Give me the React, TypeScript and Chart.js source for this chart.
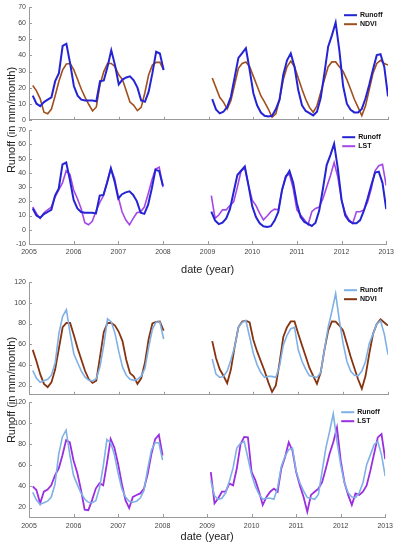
import React, { useEffect, useRef } from "react";
import { Chart, registerables } from "chart.js";
Chart.register(...registerables);

// ---- categories / ticks ----
const segmentStartYears = [2005, 2009];
const gapYear = 2008.5;
const yearTicks = [2005, 2006, 2007, 2008, 2009, 2010, 2011, 2012, 2013];
const yTicksA = [0, 10, 20, 30, 40, 50, 60, 70];
const yTicksB = [-10, 0, 10, 20, 30, 40, 50, 60, 70];
const yTicksCD = [20, 40, 60, 80, 100, 120];

// ---- top panels (a),(b): monthly values, 2005-2007 and 2009-2012 ----
const runoffTop0507 = [15, 10, 8.5, 11, 12.5, 14, 24, 29, 46, 47.3, 35, 21,
  15, 12.5, 12, 12, 12, 11.5, 24, 24.5, 33, 43.2, 34, 22,
  25, 26.3, 27, 24.5, 20, 12, 11.2, 17.5, 29, 42.3, 41.2, 31];
const runoffTop0912 = [12.8, 6.5, 4, 5, 8, 14.5, 26.5, 38.5, 41.5, 44.5, 31, 16.5,
  9, 4.5, 2.5, 2, 2.5, 6.5, 12.5, 28, 37, 41.3, 33, 18.5,
  9, 5.5, 4.2, 2.7, 5, 13.5, 29, 45.5, 52.5, 60.5, 43, 21,
  10, 6.2, 4.6, 4.6, 6.8, 13.4, 22, 31.5, 40.2, 40.8, 33, 14.5];
const ndviTop0507 = [21.3, 18, 13, 4.7, 3.7, 6.7, 15, 24, 31, 34.7, 35, 31,
  25, 19, 14, 9.5, 5.5, 8, 22, 30, 35, 35, 33, 28,
  25, 18, 11, 9, 5.7, 7.7, 17, 28, 34, 35.7, 35.7, 31];
const ndviTop0912 = [26, 20, 14, 11, 6.7, 12, 22, 32, 35, 36, 33, 27,
  21, 15, 11, 6.7, 1.6, 3.7, 12.8, 25, 33, 36.5, 33, 26,
  19, 12.8, 7.7, 4.7, 8.7, 17, 25, 33, 36, 36, 33, 30,
  25, 19, 12.8, 7.7, 2.6, 8.7, 19, 29, 35, 37, 35, 34];
const lstTop0507 = [16, 11.5, 8, 12, 14, 16, 23, 28, 33, 41.5, 39, 28,
  22, 15, 5, 3.5, 6, 13, 19, 24, 34, 43, 36, 23,
  12.7, 7, 3.5, 8, 12, 12.7, 16, 25, 34.6, 42.7, 44, 30];
const lstTop0912 = [24, 8, 10.4, 14, 14, 17, 19.6, 30, 41.5, 43.4, 31, 20.8,
  17, 11.5, 7, 9.7, 12.7, 14.5, 14, 27.7, 38, 39, 29, 14,
  10.4, 7, 3.5, 12.7, 15, 16, 22, 30, 38, 47.3, 37, 20.8,
  11.5, 7, 4.6, 12.7, 12.7, 14, 19.6, 29, 41.5, 45, 46, 31];

// ---- bottom panels (c),(d) ----
const runoffBot0507 = [34.5, 27, 23, 24.5, 26, 30, 42, 70.5, 87, 93.5, 70, 50.5,
  42, 34, 28, 25, 24.5, 26.5, 38.5, 59, 84.5, 81.5, 70.5, 53,
  38, 30, 26, 25, 26, 29, 36.5, 57, 74.5, 81.5, 81.5, 65];
const runoffBot0912 = [45.7, 31, 27.8, 28.8, 34, 45, 57.6, 76.4, 81, 82.7, 67, 51,
  40, 32.5, 27.8, 28.8, 28.8, 27.8, 38.8, 59, 68.6, 75, 76.4, 54.5,
  43.5, 35.7, 29.4, 28.8, 27.8, 32.5, 54.5, 76.4, 92, 109, 82.7, 60.7,
  43.5, 34, 30, 29.4, 34, 43.5, 60.7, 70, 79.6, 82.7, 70, 49.8];
const ndviBot0507 = [54.5, 43.5, 31, 21.6, 18.4, 23, 35.7, 56, 76.4, 80.5, 80.5, 68.6,
  56, 45, 34, 26, 22.5, 24.7, 48, 71.7, 80.5, 80.5, 78, 72,
  63, 45, 32, 29, 21.6, 27, 42, 65, 80, 81.5, 82, 73];
const ndviBot0912 = [63, 46.6, 35.7, 29.4, 22.2, 35.7, 57.6, 76.4, 82, 82.7, 81, 64,
  53, 43.5, 34, 23, 13.7, 20, 42, 67, 76.4, 82, 82, 70,
  59, 48, 37, 29.4, 21.6, 32.5, 54.5, 73, 82, 81.8, 78, 73,
  60.7, 48, 37, 26, 16.9, 29.4, 51, 70, 79.6, 84, 81, 78];
const lstBot0507 = [40, 36.6, 24, 35, 37, 41, 50.6, 57, 69.4, 84, 82, 64.7,
  53, 37, 18, 17.5, 27, 38, 43, 41, 62, 85, 77, 61.6,
  42.8, 27, 19.4, 30, 31.9, 33.4, 38, 52, 71, 85, 89, 69.4];
const lstBot0912 = [53.7, 24, 28.8, 35, 35, 42.8, 41, 57, 80, 87, 86.6, 53.7,
  46, 35, 22.5, 30, 35, 38, 35, 57, 67.8, 82, 74, 53.7,
  41, 30, 16, 32, 35, 38, 44, 57, 71, 82, 96, 64.7,
  44, 32, 22.5, 33.4, 32, 35, 41, 55, 71, 86.6, 89.7, 66];

const FONT = '"Liberation Sans", Arial, Helvetica, sans-serif';
const AXIS = "#9a9a9a";
const TICKTXT = "#444";

function toPoints(startYear: number, values: number[]) {
  return values.map((v, i) => ({ x: startYear + (i + 1) / 12, y: v }));
}
function series(a: number[], b: number[]) {
  return [
    ...toPoints(segmentStartYears[0], a),
    { x: gapYear, y: null as any },
    ...toPoints(segmentStartYears[1], b),
  ];
}

const decorPlugin = {
  id: "panelDecor",
  afterDraw(chart: any, _args: any, opts: any) {
    const { ctx, chartArea } = chart;
    const xs = chart.scales.x;
    const ys = chart.scales.y;
    ctx.save();
    ctx.strokeStyle = AXIS;
    ctx.lineWidth = 1;
    ys.ticks.forEach((t: any) => {
      const py = Math.round(ys.getPixelForValue(t.value)) + 0.5;
      ctx.beginPath();
      ctx.moveTo(chartArea.left, py);
      ctx.lineTo(chartArea.left + 3, py);
      ctx.stroke();
    });
    xs.ticks.forEach((t: any) => {
      const px = Math.round(xs.getPixelForValue(t.value)) + 0.5;
      ctx.beginPath();
      ctx.moveTo(px, chartArea.bottom);
      ctx.lineTo(px, chartArea.bottom - 3);
      ctx.stroke();
    });
    chart.data.datasets.forEach((ds: any, i: number) => {
      const y = chartArea.top + opts.dy + i * opts.gap;
      const x0 = chartArea.right - opts.dx;
      ctx.strokeStyle = ds.borderColor;
      ctx.lineWidth = 2;
      ctx.beginPath();
      ctx.moveTo(x0, y);
      ctx.lineTo(x0 + 13, y);
      ctx.stroke();
      ctx.fillStyle = "#111";
      ctx.font = `bold 7px ${FONT}`;
      ctx.textBaseline = "middle";
      ctx.textAlign = "left";
      ctx.fillText(ds.label, x0 + 16, y);
    });
    ctx.restore();
  },
};

type DS = { label: string; data: any[]; color: string; width: number };
type PanelCfg = {
  top: number;
  height: number;
  padTop: number;
  padBottom: number;
  xHeight: number;
  showX: boolean;
  tickPad: number;
  titlePad: number;
  yMin: number;
  yMax: number;
  yTicks: number[];
  legendDy: number;
  datasets: DS[];
};

function Panel({ cfg }: { cfg: PanelCfg }) {
  const ref = useRef<HTMLCanvasElement>(null);
  useEffect(() => {
    const chart = new Chart(ref.current!, {
      type: "line",
      data: {
        datasets: cfg.datasets.map((d) => ({
          label: d.label,
          data: d.data,
          borderColor: d.color,
          backgroundColor: d.color,
          borderWidth: d.width,
          pointRadius: 0,
          tension: 0,
          spanGaps: false,
        })),
      },
      options: {
        responsive: false,
        maintainAspectRatio: false,
        animation: false,
        layout: { padding: { top: cfg.padTop, bottom: cfg.padBottom, left: 0, right: 10 } },
        plugins: {
          legend: { display: false },
          tooltip: { enabled: false },
          panelDecor: { dx: 44, dy: cfg.legendDy, gap: 9 },
        } as any,
        scales: {
          x: {
            type: "linear",
            min: 2005,
            max: 2013,
            afterBuildTicks: (s: any) => {
              s.ticks = yearTicks.map((v) => ({ value: v }));
            },
            afterFit: (s: any) => {
              s.height = cfg.xHeight;
            },
            grid: { display: false, drawTicks: false },
            border: { display: true, color: AXIS, width: 1 },
            ticks: {
              display: cfg.showX,
              font: { size: 7, family: FONT },
              color: TICKTXT,
              padding: cfg.tickPad,
              maxRotation: 0,
              callback: (v: any) => String(v),
            },
            title: {
              display: cfg.showX,
              text: "date (year)",
              font: { size: 11, family: FONT },
              color: "#222",
              padding: { top: 0, bottom: cfg.titlePad },
            },
          },
          y: {
            type: "linear",
            min: cfg.yMin,
            max: cfg.yMax,
            afterBuildTicks: (s: any) => {
              s.ticks = cfg.yTicks.map((v) => ({ value: v }));
            },
            afterFit: (s: any) => {
              s.width = 29;
            },
            grid: { display: false, drawTicks: false },
            border: { display: true, color: AXIS, width: 1 },
            ticks: {
              font: { size: 7, family: FONT },
              color: TICKTXT,
              padding: 3,
              callback: (v: any) => String(v),
            },
          },
        },
      } as any,
      plugins: [decorPlugin as any],
    });
    return () => chart.destroy();
  }, []);
  return (
    <canvas
      ref={ref}
      width={398}
      height={cfg.height}
      style={{ position: "absolute", left: 0, top: cfg.top, width: 398, height: cfg.height }}
    />
  );
}

const C_BLUE_DARK = "#2424d4";
const C_NDVI_TOP = "#a0501e";
const C_LST_TOP = "#a447e6";
const C_BLUE_LIGHT = "#7fb0e6";
const C_NDVI_BOT = "#86330f";
const C_LST_BOT = "#9a2ee0";

const panels: PanelCfg[] = [
  {
    top: 0, height: 127, padTop: 6, padBottom: 6, xHeight: 0, showX: false, tickPad: 4, titlePad: 0,
    yMin: 0, yMax: 70, yTicks: yTicksA, legendDy: 8,
    datasets: [
      { label: "Runoff", data: series(runoffTop0507, runoffTop0912), color: C_BLUE_DARK, width: 2 },
      { label: "NDVI", data: series(ndviTop0507, ndviTop0912), color: C_NDVI_TOP, width: 1.6 },
    ],
  },
  {
    top: 123, height: 157, padTop: 6, padBottom: 0, xHeight: 36, showX: true, tickPad: 4, titlePad: 3,
    yMin: -10, yMax: 70, yTicks: yTicksB, legendDy: 7,
    datasets: [
      { label: "Runoff", data: series(runoffTop0507, runoffTop0912), color: C_BLUE_DARK, width: 2 },
      { label: "LST", data: series(lstTop0507, lstTop0912), color: C_LST_TOP, width: 1.6 },
    ],
  },
  {
    top: 275, height: 127, padTop: 6, padBottom: 6, xHeight: 0, showX: false, tickPad: 4, titlePad: 0,
    yMin: 11, yMax: 120, yTicks: yTicksCD, legendDy: 8,
    datasets: [
      { label: "Runoff", data: series(runoffBot0507, runoffBot0912), color: C_BLUE_LIGHT, width: 1.6 },
      { label: "NDVI", data: series(ndviBot0507, ndviBot0912), color: C_NDVI_BOT, width: 1.8 },
    ],
  },
  {
    top: 395, height: 155, padTop: 6, padBottom: 0, xHeight: 33, showX: true, tickPad: 5, titlePad: 6,
    yMin: 11, yMax: 120, yTicks: yTicksCD, legendDy: 10,
    datasets: [
      { label: "Runoff", data: series(runoffBot0507, runoffBot0912), color: C_BLUE_LIGHT, width: 1.6 },
      { label: "LST", data: series(lstBot0507, lstBot0912), color: C_LST_BOT, width: 1.8 },
    ],
  },
];

const yTitleStyle = (top: number): React.CSSProperties => ({
  position: "absolute",
  left: 11,
  top,
  transform: "translate(-50%, -50%) rotate(-90deg)",
  whiteSpace: "nowrap",
  font: `11px ${FONT}`,
  color: "#222",
});

export default function App() {
  return (
    <div style={{ position: "absolute", left: 0, top: 0, width: 398, height: 550, background: "#fff", overflow: "hidden" }}>
      {panels.map((p, i) => (
        <Panel key={i} cfg={p} />
      ))}
      <div style={yTitleStyle(120)}>Runoff (in mm/month)</div>
      <div style={yTitleStyle(390)}>Runoff (in mm/month)</div>
    </div>
  );
}
